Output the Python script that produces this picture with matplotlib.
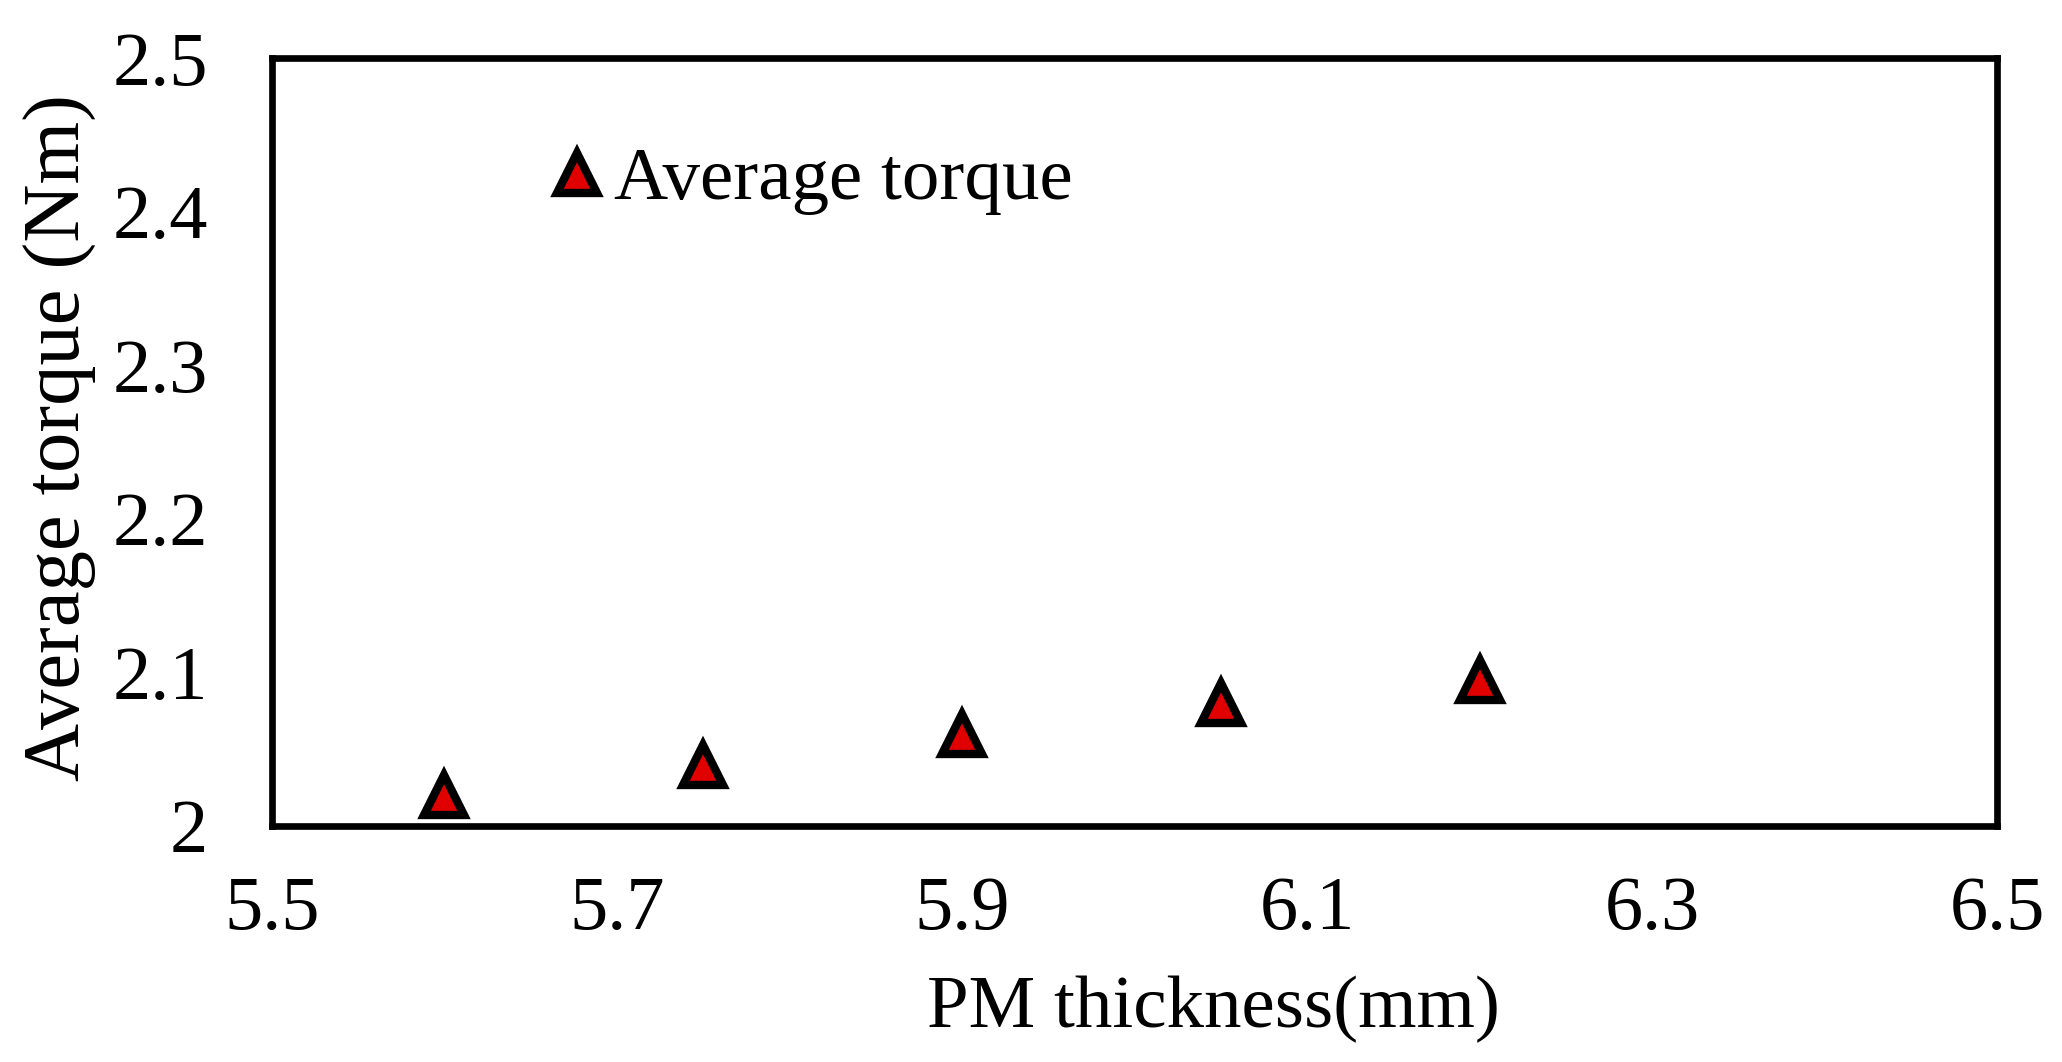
import matplotlib
matplotlib.use("Agg")
import matplotlib.pyplot as plt

# Datos
pm_thickness = [5.6, 5.75, 5.9, 6.05, 6.2]
avg_torque = [2.02, 2.04, 2.06, 2.08, 2.095]
x_ticks = [5.5, 5.7, 5.9, 6.1, 6.3, 6.5]
y_ticks = [2.0, 2.1, 2.2, 2.3, 2.4, 2.5]
x_tick_labels = ["5.5", "5.7", "5.9", "6.1", "6.3", "6.5"]
y_tick_labels = ["2", "2.1", "2.2", "2.3", "2.4", "2.5"]

plt.rcParams['font.family'] = ['Liberation Serif', 'DejaVu Serif']
W, H = 2062, 1062
fs = 55

fig = plt.figure(figsize=(W / 100, H / 100), dpi=100)
ax = fig.add_axes([272 / W, 1 - 826 / H, 1725 / W, 768 / H])

ax.plot(pm_thickness, avg_torque, linestyle='none', marker='^',
        markersize=29, markerfacecolor='#E00000', markeredgecolor='black',
        markeredgewidth=6, label='Average torque', clip_on=False)

ax.set_xlim(5.5, 6.5)
ax.set_ylim(2.0, 2.5)
ax.set_xticks(x_ticks)
ax.set_xticklabels(x_tick_labels)
ax.set_yticks(y_ticks)
ax.set_yticklabels(y_tick_labels)
ax.tick_params(axis='both', length=0, labelsize=fs)
ax.tick_params(axis='x', pad=36)
ax.tick_params(axis='y', pad=46)

for s in ax.spines.values():
    s.set_linewidth(4.8)

# Etiquetas de ejes
fig.text(1213 / W, 1 - 1027 / H, "PM thickness(mm)", fontsize=54,
         ha='center', va='baseline')
fig.text(80 / W, 1 - 438 / H, "Average torque (Nm)", fontsize=58,
         ha='center', va='baseline', rotation=90, rotation_mode='anchor')

ax.legend(loc='center left', bbox_to_anchor=(558 / W, 1 - 181 / H),
          bbox_transform=fig.transFigure, frameon=False, fontsize=54,
          handlelength=0.5, handletextpad=0.25, borderpad=0,
          borderaxespad=0, numpoints=1)

fig.savefig("out.png", dpi=100)
